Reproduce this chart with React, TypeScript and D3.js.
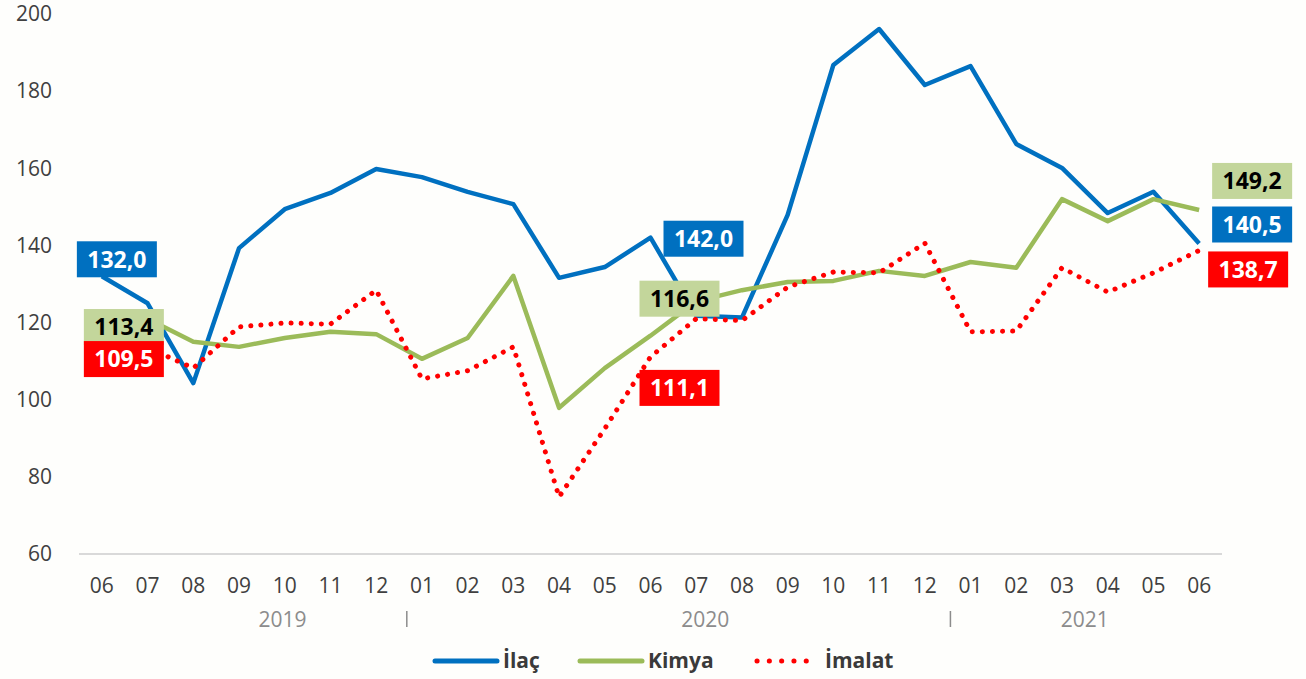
import React, { useRef, useEffect } from "react";
import * as d3 from "d3";

// month labels, Jun 2019 .. Jun 2021
const months = ["06", "07", "08", "09", "10", "11", "12", "01", "02", "03", "04", "05", "06",
  "07", "08", "09", "10", "11", "12", "01", "02", "03", "04", "05", "06"];

const ilac = [132.0, 125.0, 104.3, 139.3, 149.4, 153.6, 159.8, 157.7, 153.9, 150.7, 131.6, 134.4, 142.0,
  121.8, 121.3, 147.9, 186.8, 196.1, 181.6, 186.5, 166.3, 160.1, 148.4, 153.9, 140.5];
const kimya = [113.4, 121.0, 115.0, 113.7, 116.0, 117.6, 117.0, 110.6, 116.0, 132.1, 97.9, 108.2, 116.6,
  125.5, 128.4, 130.5, 130.8, 133.4, 132.1, 135.7, 134.2, 152.0, 146.3, 152.0, 149.2];
const imalat = [109.5, 113.5, 108.2, 118.9, 119.9, 119.6, 128.4, 105.4, 107.5, 113.7, 74.8, 92.5, 111.1,
  121.0, 120.5, 129.2, 133.1, 132.9, 140.6, 117.6, 117.8, 134.2, 127.9, 132.9, 138.7];

const yTicks = [60, 80, 100, 120, 140, 160, 180, 200];
const years = ["2019", "2020", "2021"];

const W = 1306;
const H = 679;
const BLUE = "#0070C0";
const GREEN = "#9BBB59";
const RED = "#FF0000";
const FONT = "'Open Sans', sans-serif";

const App = () => {
  const ref = useRef(null);

  useEffect(() => {
    document.body.style.margin = "0";
    const svg = d3.select(ref.current);
    svg.selectAll("*").remove();

    const x = d3.scaleBand().domain(d3.range(months.length)).range([79, 1222]);
    const cx = (i) => x(i) + x.bandwidth() / 2;
    const y = d3.scaleLinear().domain([60, 200]).range([554, 14]);

    svg.append("rect").attr("width", W).attr("height", H).attr("fill", "#fefefc");

    // y tick labels (no gridlines)
    svg.append("g")
      .selectAll("text")
      .data(yTicks)
      .enter()
      .append("text")
      .attr("x", 52)
      .attr("y", (d) => y(d))
      .attr("dy", "0.35em")
      .attr("text-anchor", "end")
      .style("font-family", FONT)
      .style("font-size", "21px")
      .attr("fill", "#404040")
      .text((d) => d);

    // baseline
    svg.append("line")
      .attr("x1", x.range()[0]).attr("x2", x.range()[1])
      .attr("y1", y(60)).attr("y2", y(60))
      .attr("stroke", "#d9d9d9").attr("stroke-width", 2);

    // month labels
    svg.append("g")
      .selectAll("text")
      .data(months)
      .enter()
      .append("text")
      .attr("x", (d, i) => cx(i))
      .attr("y", 586)
      .attr("dy", "0.35em")
      .attr("text-anchor", "middle")
      .style("font-family", FONT)
      .style("font-size", "21px")
      .attr("fill", "#404040")
      .text((d) => d);

    // year row - centres and separators as category positions
    const yearPos = [3.95, 13.2, 21.5];
    years.forEach((yr, k) => {
      const xi = x(0) + x.bandwidth() * (yearPos[k] + 0.5);
      svg.append("text")
        .attr("x", xi).attr("y", 620).attr("dy", "0.35em")
        .attr("text-anchor", "middle")
        .style("font-family", FONT).style("font-size", "21px")
        .attr("fill", "#8c8c8c")
        .text(yr);
    });
    [6.67, 18.56].forEach((s) => {
      const xs = x(0) + x.bandwidth() * (s + 0.5);
      svg.append("line")
        .attr("x1", xs).attr("x2", xs).attr("y1", 611).attr("y2", 627)
        .attr("stroke", "#8c8c8c").attr("stroke-width", 1.5);
    });

    const line = d3.line().x((d, i) => cx(i)).y((d) => y(d));

    svg.append("path").attr("d", line(ilac)).attr("fill", "none")
      .attr("stroke", BLUE).attr("stroke-width", 4.5).attr("stroke-linejoin", "round");
    svg.append("path").attr("d", line(kimya)).attr("fill", "none")
      .attr("stroke", GREEN).attr("stroke-width", 4.5).attr("stroke-linejoin", "round");
    svg.append("path").attr("d", line(imalat)).attr("fill", "none")
      .attr("stroke", RED).attr("stroke-width", 5)
      .attr("stroke-linecap", "round").attr("stroke-dasharray", "0.1 10");

    // data labels: which series/index, offset of box centre from the point
    const labels = [
      { s: ilac, i: 0, dx: 15, dy: -17, fill: BLUE, color: "#fff" },
      { s: kimya, i: 0, dx: 22, dy: -21, fill: "#c3d69b", color: "#000" },
      { s: imalat, i: 0, dx: 22, dy: -4, fill: RED, color: "#fff" },
      { s: ilac, i: 12, dx: 53, dy: 1, fill: BLUE, color: "#fff" },
      { s: kimya, i: 12, dx: 29, dy: -37, fill: "#c3d69b", color: "#000" },
      { s: imalat, i: 12, dx: 29, dy: 31, fill: RED, color: "#fff" },
      { s: kimya, i: 24, dx: 53, dy: -29, fill: "#c3d69b", color: "#000" },
      { s: ilac, i: 24, dx: 53, dy: -19, fill: BLUE, color: "#fff" },
      { s: imalat, i: 24, dx: 49, dy: 19, fill: RED, color: "#fff" },
    ];
    const fmt = (v) => v.toFixed(1).replace(".", ",");
    const lg = svg.append("g");
    labels.forEach((l) => {
      const px = cx(l.i) + l.dx;
      const py = y(l.s[l.i]) + l.dy;
      lg.append("rect")
        .attr("x", px - 40).attr("y", py - 18)
        .attr("width", 80).attr("height", 36)
        .attr("fill", l.fill);
      lg.append("text")
        .attr("x", px).attr("y", py).attr("dy", "0.36em")
        .attr("text-anchor", "middle")
        .style("font-family", FONT).style("font-size", "23px").style("font-weight", 700)
        .attr("fill", l.color)
        .text(fmt(l.s[l.i]));
    });

    // legend
    const legend = [
      { name: "İlaç", color: BLUE, dotted: false, x: 433 },
      { name: "Kimya", color: GREEN, dotted: false, x: 578 },
      { name: "İmalat", color: RED, dotted: true, x: 757 },
    ];
    const leg = svg.append("g");
    legend.forEach((d) => {
      leg.append("line")
        .attr("x1", d.x + (d.dotted ? 0 : 2)).attr("x2", d.x + (d.dotted ? 61 : 64))
        .attr("y1", 661).attr("y2", 661)
        .attr("stroke", d.color)
        .attr("stroke-width", d.dotted ? 5 : 5)
        .attr("stroke-linecap", "round")
        .attr("stroke-dasharray", d.dotted ? "0.1 12.2" : null);
      leg.append("text")
        .attr("x", d.x + (d.dotted ? 68 : 70)).attr("y", 661).attr("dy", "0.35em")
        .style("font-family", FONT).style("font-size", "21px").style("font-weight", 700)
        .attr("fill", "#3a3a3a")
        .text(d.name);
    });
  }, []);

  return <svg ref={ref} width={W} height={H} style={{ display: "block" }}></svg>;
};

export default App;
